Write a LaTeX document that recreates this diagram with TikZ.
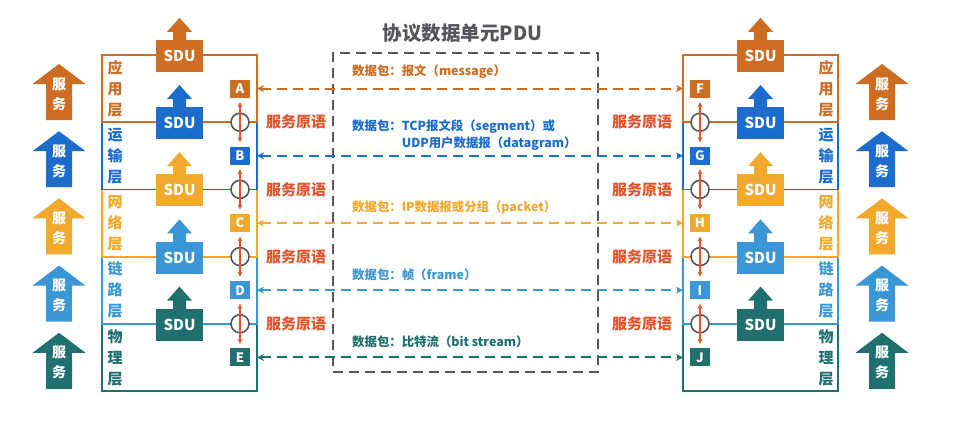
\documentclass[tikz,border=0pt]{standalone}
\usepackage{fontspec}
\setmainfont{Noto Sans CJK SC}
\usetikzlibrary{arrows.meta}
\definecolor{appC}{RGB}{206,108,33}
\definecolor{transC}{RGB}{28,108,205}
\definecolor{netC}{RGB}{240,168,45}
\definecolor{linkC}{RGB}{58,150,212}
\definecolor{phyC}{RGB}{32,112,112}
\definecolor{primC}{RGB}{226,84,42}
\definecolor{grayC}{RGB}{85,85,90}
\begin{document}
\begin{tikzpicture}[x=1pt,y=-1pt,
  letter/.style={minimum width=20pt,minimum height=18pt,inner sep=0pt,text=white,font=\fontsize{13}{13}\selectfont\bfseries},
  sdubox/.style={minimum width=47pt,minimum height=32pt,inner sep=0pt,text=white,font=\fontsize{15}{15}\selectfont\bfseries},
  svc/.style={align=center,text=white,inner sep=0pt,font=\fontsize{14}{20}\selectfont\bfseries},
  layerlab/.style={align=center,inner sep=0pt,font=\fontsize{15}{21}\selectfont\bfseries},
  circ/.style={circle,draw=grayC,fill=white,line width=1.6pt,minimum size=18pt,inner sep=0pt},
  prim/.style={primC,line width=1.3pt,{Stealth[length=5pt,width=5pt]}-{Stealth[length=5pt,width=5pt]}},
  primlab/.style={text=primC,font=\fontsize{15}{15}\selectfont\bfseries,inner sep=0pt},
  pdulink/.style={line width=2pt,dash pattern=on 10pt off 6pt,{Stealth[length=7pt,width=7pt]}-{Stealth[length=7pt,width=7pt]}},
  midtext/.style={anchor=west,inner sep=0pt,font=\fontsize{12.4}{17}\selectfont\bfseries},
  stack/.style={line width=1.8pt}
]
\useasboundingbox (0,0) rectangle (954,423);
\fill[white] (0,0) rectangle (954,423);

% layer rectangles, bottom layer first
\foreach \i/\c in {4/phyC,3/linkC,2/netC,1/transC,0/appC}{
  \pgfmathsetmacro\t{55+67.2*\i}
  \draw[stack,\c] (102,\t) rectangle (257,\t+67.2);
  \draw[stack,\c] (683,\t) rectangle (838,\t+67.2);
}

% title and PDU box
\node[font=\fontsize{19.5}{19.5}\selectfont\bfseries,text=grayC,inner sep=0pt] (title) at (462.5,33) {协议数据单元PDU};
\node[draw=grayC,line width=2pt,dash pattern=on 10pt off 6pt,minimum width=265pt,minimum height=319pt,inner sep=0pt] (pdu) at (465.5,212.5) {};

\foreach \i/\c/\xa/\xb/\xc/\ll/\rl in {0/appC/应/用/层/A/F,1/transC/运/输/层/B/G,2/netC/网/络/层/C/H,3/linkC/链/路/层/D/I,4/phyC/物/理/层/E/J}{
  \pgfmathsetmacro\t{55+67.2*\i}
  \pgfmathsetmacro\m{\t+33.6}
  % service arrows (left and right)
  \fill[\c] (59,\t+9) -- (85.5,\t+29) -- (72,\t+29) -- (72,\t+65) -- (46,\t+65) -- (46,\t+29) -- (32.5,\t+29) -- cycle;
  \node[svc] (svl\i) at (59,\t+39) {服\\务};
  \fill[\c] (882,\t+9) -- (908.5,\t+29) -- (895,\t+29) -- (895,\t+65) -- (869,\t+65) -- (869,\t+29) -- (855.5,\t+29) -- cycle;
  \node[svc] (svr\i) at (882,\t+39) {服\\务};
  % SDU boxes with arrows
  \node[sdubox,fill=\c] (sdl\i) at (179.5,\t+1) {SDU};
  \fill[\c] ([xshift=-6.5pt,yshift=-0.5pt]sdl\i.north) -- ++(0,-8.5) -- ++(-6,0) -- ++(12.5,-14) -- ++(12.5,14) -- ++(-6,0) -- ++(0,8.5) -- cycle;
  \node[sdubox,fill=\c] (sdr\i) at (760.5,\t+1) {SDU};
  \fill[\c] ([xshift=-6.5pt,yshift=-0.5pt]sdr\i.north) -- ++(0,-8.5) -- ++(-6,0) -- ++(12.5,-14) -- ++(12.5,14) -- ++(-6,0) -- ++(0,8.5) -- cycle;
  % layer labels
  \node[layerlab,text=\c] (lll\i) at (115,\m) {\xa\\\xb\\\xc};
  \node[layerlab,text=\c] (llr\i) at (826,\m) {\xa\\\xb\\\xc};
  % letters
  \node[letter,fill=\c] (L\i) at (240,\m) {\ll};
  \node[letter,fill=\c] (R\i) at (700,\m) {\rl};
  \coordinate (le\i) at (257,\m);
  \coordinate (re\i) at (683,\m);
}

% service primitives at boundaries
\foreach \i in {0,1,2,3}{
  \pgfmathsetmacro\b{55+67.2*(\i+1)}
  \node[circ] (cl\i) at (240,\b) {};
  \node[circ] (cr\i) at (700,\b) {};
  \coordinate (pla\i) at (240,\b-20);
  \coordinate (plb\i) at (240,\b+20);
  \coordinate (pra\i) at (700,\b-20);
  \coordinate (prb\i) at (700,\b+20);
  \draw[prim] (pla\i) -- (plb\i);
  \draw[prim] (pra\i) -- (prb\i);
  \node[primlab] (pml\i) at (296,\b) {服务原语};
  \node[primlab] (pmr\i) at (642,\b) {服务原语};
}

% middle texts
\node[midtext,text=appC] (t1) at (352,72) {数据包：报文（message）};
\node[midtext,text=transC] (t2a) at (352,127) {数据包：TCP报文段（segment）或};
\node[midtext,text=transC] (t2b) at (401.6,144) {UDP用户数据报（datagram）};
\node[midtext,text=netC] (t3) at (352,207) {数据包：IP数据报或分组（packet）};
\node[midtext,text=linkC] (t4) at (352,275) {数据包：帧（frame）};
\node[midtext,text=phyC] (t5) at (352,342) {数据包：比特流（bit stream）};

% peer links
\foreach \i/\c in {0/appC,1/transC,2/netC,3/linkC,4/phyC}{
  \draw[pdulink,\c] (le\i) -- (re\i);
}
\end{tikzpicture}
\end{document}
